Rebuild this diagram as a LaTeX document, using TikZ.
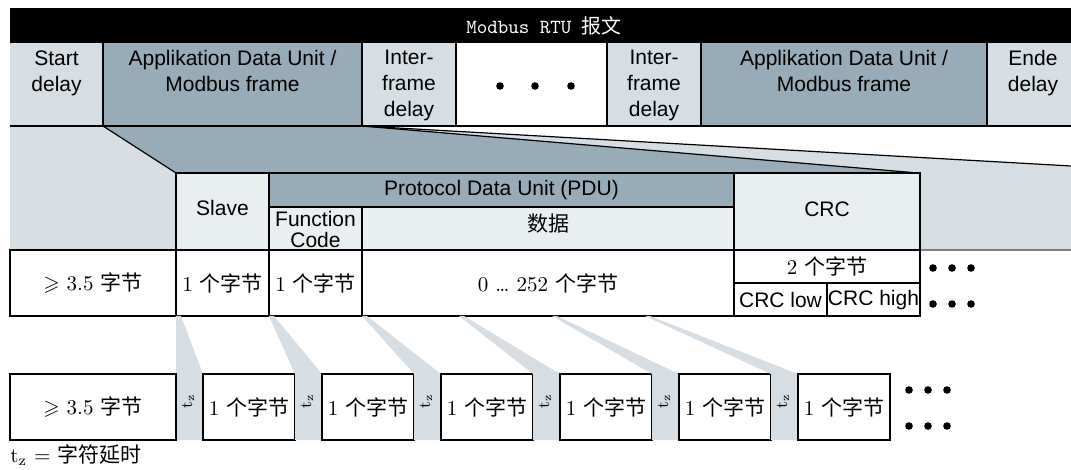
\documentclass[tikz,border=0pt]{standalone}
\usepackage{amssymb}
\usepackage{fontspec}
\newfontfamily\arialfont{Liberation Sans}
\newfontfamily\cjk{Noto Sans CJK SC}
\usepackage{tikz}
\definecolor{rtudark}{HTML}{98ABB8}
\definecolor{rtulight}{HTML}{D6DEE4}
\definecolor{rtupale}{HTML}{E9EEF1}
\tikzset{
  rtuline/.style={draw=black,line width=0.9pt},
  rtuthin/.style={draw=black,line width=0.6pt},
  rtulabel/.style={font={\arialfont\fontsize{10.5}{13}\selectfont},align=center,inner sep=0pt},
  rtubyte/.style={font={\fontsize{10.5}{13}\selectfont},inner sep=0pt},
  rtugap/.style={font={\fontsize{8.5}{8.5}\selectfont},inner sep=0pt,rotate=90},
  rtudot/.style={fill=black}
}
\begin{document}
\begin{tikzpicture}[x=0.5pt,y=-0.5pt]
\useasboundingbox (0,0) rectangle (1071,470);
\fill[rtulight] (10,126) -- (362,126) -- (1071,166) -- (1071,250) -- (10,250) -- cycle;
\fill[rtudark] (103,126) -- (362,126) -- (918,173) -- (176,173) -- cycle;
\draw[rtuthin] (103,126) -- (176,173);
\draw[rtuthin] (362,126) -- (918,173);
\draw[rtuthin] (362,126) -- (1071,166);
\fill[black] (10,8) rectangle (1071,43);
\node[font={\ttfamily\fontsize{10}{12}\selectfont},text=white,inner sep=0pt] (title) at (544,25.5) {Modbus RTU {\cjk 报文}};
\fill[rtulight] (10,43) rectangle (103,126);
\fill[rtudark] (103,43) rectangle (362,126);
\fill[rtulight] (362,43) rectangle (456,126);
\fill[rtulight] (607,43) rectangle (701,126);
\fill[rtudark] (701,43) rectangle (987,126);
\fill[rtulight] (987,43) rectangle (1071,126);
\foreach \x in {103,362,456,607,701,987}{\draw[rtuline] (\x,43) -- (\x,126);}
\draw[rtuline] (10,126) -- (1071,126);
\node[rtulabel,anchor=north] (sd) at (56.5,50) {Start\\delay};
\node[rtulabel,anchor=north] (adu1) at (232.5,50) {Applikation Data Unit /\\Modbus frame};
\node[rtulabel,anchor=north] (ifd1) at (409,50) {Inter-\\frame\\delay};
\node[rtulabel,anchor=north] (ifd2) at (654,50) {Inter-\\frame\\delay};
\node[rtulabel,anchor=north] (adu2) at (844,50) {Applikation Data Unit /\\Modbus frame};
\node[rtulabel,anchor=north] (ed) at (1033,50) {Ende\\delay};
\foreach \x in {500,535,571}{\fill[rtudot] (\x,86) circle[radius=1.9pt];}
\filldraw[rtuline,fill=rtupale] (176,173) rectangle (269,250);
\filldraw[rtuline,fill=rtudark] (269,173) rectangle (734,207);
\filldraw[rtuline,fill=rtupale] (269,207) rectangle (362,250);
\filldraw[rtuline,fill=rtupale] (362,207) rectangle (734,250);
\filldraw[rtuline,fill=rtupale] (734,173) rectangle (920,250);
\node[rtulabel] (slave) at (222.5,208) {Slave};
\node[rtulabel] (pdu) at (501.5,190) {Protocol Data Unit (PDU)};
\node[rtulabel,font={\arialfont\fontsize{10.5}{10.5}\selectfont}] (fc) at (315.5,229) {Function\\Code};
\node[rtubyte] (data) at (548,224) {\cjk 数据};
\node[rtulabel] (crc) at (827,209) {CRC};
\draw[gray,line width=0.9pt] (920,250) -- (1071,250);
\draw[rtuline] (10,250) rectangle (176,316);
\draw[rtuline] (176,250) rectangle (269,316);
\draw[rtuline] (269,250) rectangle (362,316);
\draw[rtuline] (362,250) rectangle (734,316);
\draw[rtuline] (734,250) rectangle (920,283);
\draw[rtuline] (734,283) rectangle (827,316);
\draw[rtuline] (827,283) rectangle (920,316);
\node[rtubyte] (pause) at (93,283) {$\geqslant$ 3.5 {\cjk 字节}};
\node[rtubyte] (slavebyte) at (222.5,283) {1 {\cjk 个字节}};
\node[rtubyte] (fcbyte) at (315.5,283) {1 {\cjk 个字节}};
\node[rtubyte] (databyte) at (548,283) {0 \dots\ 252 {\cjk 个字节}};
\node[rtubyte] (crcbyte) at (827,266.5) {2 {\cjk 个字节}};
\node[rtulabel] (crclow) at (780.5,300) {CRC low};
\node[rtulabel] (crchigh) at (873.5,300) {CRC high};
\foreach \y in {268,304}{\foreach \x in {933,952,971}{\fill[rtudot] (\x,\y) circle[radius=1.9pt];}}
\foreach \s [count=\i from 0] in {176,269,362,459,552,645}{
  \pgfmathsetmacro{\g}{176+119*\i}
  \fill[rtulight] (\s,316) -- (\s+5,316) -- (\g+27,374) -- (\g+27,440) -- (\g,440) -- (\g,374) -- cycle;
  \draw[rtuline] (\g+27,374) rectangle (\g+119,440);
  \node[rtubyte] (byte\i) at (\g+73,407) {1 {\cjk 个字节}};
  \node[rtugap] (gap\i) at (\g+12,401) {t$_\mathrm{z}$};
}
\draw[rtuline] (10,374) rectangle (176,440);
\node[rtubyte] (idle) at (93,407) {$\geqslant$ 3.5 {\cjk 字节}};
\foreach \y in {390,426}{\foreach \x in {909,928,947}{\fill[rtudot] (\x,\y) circle[radius=1.9pt];}}
\node[rtubyte,anchor=west] (note) at (10,455) {t$_\mathrm{z}$ = {\cjk 字符延时}};
\end{tikzpicture}
\end{document}
